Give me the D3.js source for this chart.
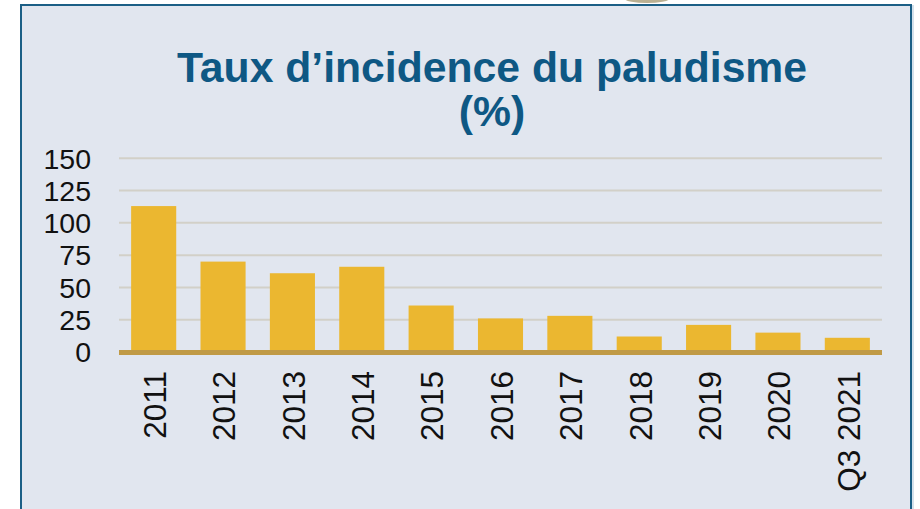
<!DOCTYPE html>
<html>
<head>
<meta charset="utf-8">
<script src="https://cdn.jsdelivr.net/npm/d3@7"></script>
<style>
  body { margin: 0; background: #fff; }
  svg { display: block; font-family: Arial, "Liberation Sans", sans-serif; }
</style>
</head>
<body>
<div id="chart"></div>
<script>
const categories = ["2011", "2012", "2013", "2014", "2015", "2016", "2017", "2018", "2019", "2020", "Q3 2021"];
const values = [113, 70, 61, 66, 36, 26, 28, 12, 21, 15, 11];
const yTicks = [0, 25, 50, 75, 100, 125, 150];
const titleLines = ["Taux d\u2019incidence du paludisme", "(%)"];

const width = 920;
const height = 509;

const svg = d3.select("#chart")
  .append("svg")
  .attr("width", width)
  .attr("height", height);

// panel
svg.append("rect")
  .attr("x", 21)
  .attr("y", 5)
  .attr("width", 890)
  .attr("height", 520)
  .attr("fill", "#e1e6ef")
  .attr("stroke", "#1b5f86")
  .attr("stroke-width", 2);

svg.append("line")
  .attr("x1", 913).attr("x2", 913)
  .attr("y1", 5).attr("y2", height)
  .attr("stroke", "#a9c3d8")
  .attr("stroke-width", 1);

// bit of the logo sticking out above the panel
svg.append("ellipse")
  .attr("cx", 647).attr("cy", -1)
  .attr("rx", 22).attr("ry", 4)
  .attr("fill", "#8c7b4a")
  .attr("opacity", 0.6);

// title
svg.append("g")
  .selectAll("text")
  .data(titleLines)
  .enter()
  .append("text")
  .attr("x", 492)
  .attr("y", (d, i) => 82 + i * 44)
  .attr("text-anchor", "middle")
  .attr("font-size", 42.7)
  .attr("font-weight", "bold")
  .attr("fill", "#0e5884")
  .text((d) => d);

const x = d3.scaleBand()
  .domain(categories)
  .range([119, 882])
  .paddingInner(0.35)
  .paddingOuter(0.175);

const y = d3.scaleLinear()
  .domain([0, 150])
  .range([352, 158.3]);

// gridlines
svg.append("g")
  .selectAll("line")
  .data(yTicks.filter((t) => t > 0))
  .enter()
  .append("line")
  .attr("x1", 119)
  .attr("x2", 882)
  .attr("y1", (d) => y(d))
  .attr("y2", (d) => y(d))
  .attr("stroke", "#d2d0c8")
  .attr("stroke-width", 2);

// y tick labels (kept just under the gap between gridlines)
svg.append("g")
  .selectAll("text")
  .data(yTicks)
  .enter()
  .append("text")
  .attr("x", 91)
  .attr("y", (d) => y(d))
  .attr("dy", "0.36em")
  .attr("text-anchor", "end")
  .attr("font-size", 28.5)
  .attr("fill", "#111")
  .text((d) => d);

// bars
svg.append("g")
  .selectAll("rect")
  .data(values)
  .enter()
  .append("rect")
  .attr("x", (d, i) => x(categories[i]))
  .attr("y", (d) => y(d))
  .attr("width", x.bandwidth())
  .attr("height", (d) => y(0) - y(d))
  .attr("fill", "#ebb730");

// baseline
svg.append("line")
  .attr("x1", 119)
  .attr("x2", 882)
  .attr("y1", y(0) + 0.5)
  .attr("y2", y(0) + 0.5)
  .attr("stroke", "#c09a46")
  .attr("stroke-width", 5);

// x labels, rotated
svg.append("g")
  .selectAll("text")
  .data(categories)
  .enter()
  .append("text")
  .attr("transform", (d) => `translate(${x(d) + x.bandwidth() / 2 + 1}, 371) rotate(-90)`)
  .attr("dy", "0.36em")
  .attr("text-anchor", "end")
  .attr("font-size", 31.5)
  .attr("fill", "#111")
  .text((d) => d);
</script>
</body>
</html>
